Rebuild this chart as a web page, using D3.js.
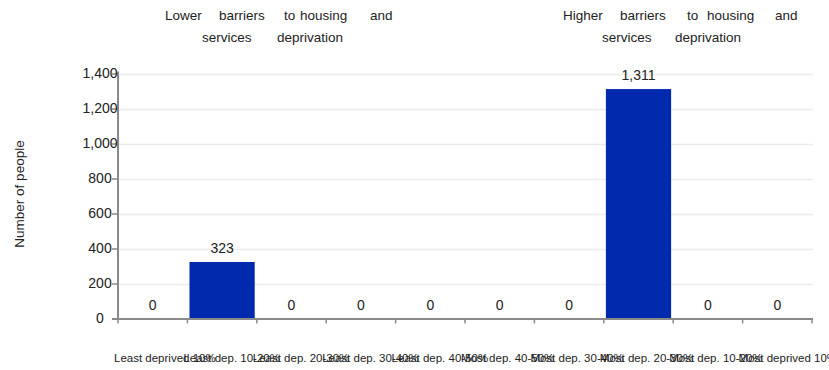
<!DOCTYPE html>
<html>
<head>
<meta charset="utf-8">
<script src="https://cdn.jsdelivr.net/npm/d3@7"></script>
<style>
  body { margin: 0; background: #fff; }
  svg { display: block; font-family: "Liberation Sans", Arial, sans-serif; }
</style>
</head>
<body>
<svg id="chart" width="829" height="370"></svg>
<script>
const categories = [
  "Least deprived 10%", "Least dep. 10-20%", "Least dep. 20-30%", "Least dep. 30-40%",
  "Least dep. 40-50%", "Most dep. 40-50%", "Most dep. 30-40%", "Most dep. 20-30%",
  "Most dep. 10-20%", "Most deprived 10%"
];
const values = [0, 323, 0, 0, 0, 0, 0, 1311, 0, 0];
const yTicks = [0, 200, 400, 600, 800, 1000, 1200, 1400];
const yTitle = "Number of people";
const leftNote = [["Lower", "barriers", "to", "housing", "and"], ["services", "deprivation"]];
const rightNote = [["Higher", "barriers", "to", "housing", "and"], ["services", "deprivation"]];

const svg = d3.select("#chart");
const plot = { left: 118, right: 812, top: 73.5, bottom: 318.5 };

const x = d3.scaleBand().domain(categories).range([plot.left, plot.right])
  .paddingInner(0.06).paddingOuter(0.03);
const y = d3.scaleLinear().domain([0, 1400]).range([plot.bottom, plot.top]);
const fmt = d3.format(",");

// gridlines
svg.append("g").selectAll("line").data(yTicks.filter(d => d > 0)).join("line")
  .attr("x1", plot.left).attr("x2", plot.right + 1)
  .attr("y1", d => Math.round(y(d)) + 0.5).attr("y2", d => Math.round(y(d)) + 0.5)
  .attr("stroke", "#ececec").attr("stroke-width", 1.5);

// bars
svg.append("g").selectAll("rect").data(values).join("rect")
  .attr("x", (d, i) => x(categories[i]))
  .attr("width", x.bandwidth())
  .attr("y", d => y(d))
  .attr("height", d => y(0) - y(d))
  .attr("fill", "#002aae");

// value labels
svg.append("g").selectAll("text").data(values).join("text")
  .attr("x", (d, i) => x(categories[i]) + x.bandwidth() / 2)
  .attr("y", d => y(d) - 9)
  .attr("text-anchor", "middle")
  .attr("font-size", 14).attr("fill", "#222")
  .text(d => fmt(d));

// y axis
const yAxis = svg.append("g").attr("transform", `translate(${plot.left},0)`)
  .call(d3.axisLeft(y).tickValues(yTicks).tickFormat(fmt).tickSize(6).tickSizeOuter(0));
yAxis.select(".domain").attr("stroke", "#8a8a8a").attr("stroke-width", 2)
  .attr("d", `M0,${plot.top - 2}V${plot.bottom + 1}`);
yAxis.selectAll(".tick line").attr("stroke", "#8a8a8a").attr("stroke-width", 1.5);
yAxis.selectAll(".tick text").attr("font-size", 14).attr("fill", "#222")
  .attr("font-family", "Liberation Sans, Arial, sans-serif")
  .attr("text-anchor", "middle").attr("x", -18);

// x axis line and ticks at band boundaries
const step = x.step();
const bounds = d3.range(categories.length + 1).map(i => plot.left + i * step);
svg.append("line")
  .attr("x1", plot.left - 6).attr("x2", plot.right + 1)
  .attr("y1", plot.bottom + 0.5).attr("y2", plot.bottom + 0.5)
  .attr("stroke", "#8a8a8a").attr("stroke-width", 2);
svg.append("g").selectAll("line").data(bounds).join("line")
  .attr("x1", d => d).attr("x2", d => d)
  .attr("y1", plot.bottom).attr("y2", plot.bottom + 5)
  .attr("stroke", "#8a8a8a").attr("stroke-width", 1.5);

// x labels (start-anchored at band boundaries, overlapping as in original)
svg.append("g").selectAll("text").data(categories).join("text")
  .attr("x", (d, i) => bounds[i] - 4)
  .attr("y", 362)
  .attr("font-size", 11.5).attr("fill", "#222")
  .text(d => d);

// y title
svg.append("text")
  .attr("transform", "translate(24,194) rotate(-90)")
  .attr("text-anchor", "middle")
  .attr("font-size", 13.5).attr("fill", "#222")
  .text(yTitle);

// annotations: words placed at their start positions (justified look)
function note(lines, starts, baselines) {
  lines.forEach((words, li) => {
    svg.append("g").selectAll("text").data(words).join("text")
      .attr("font-size", 13.5).attr("fill", "#222")
      .attr("x", (d, i) => starts[li][i]).attr("y", baselines[li])
      .text(d => d);
  });
}
note(leftNote, [[165, 219, 284, 300, 370], [202, 277]], [20, 42]);
note(rightNote, [[563, 620, 687, 707, 775], [602, 675]], [20, 42]);
</script>
</body>
</html>
